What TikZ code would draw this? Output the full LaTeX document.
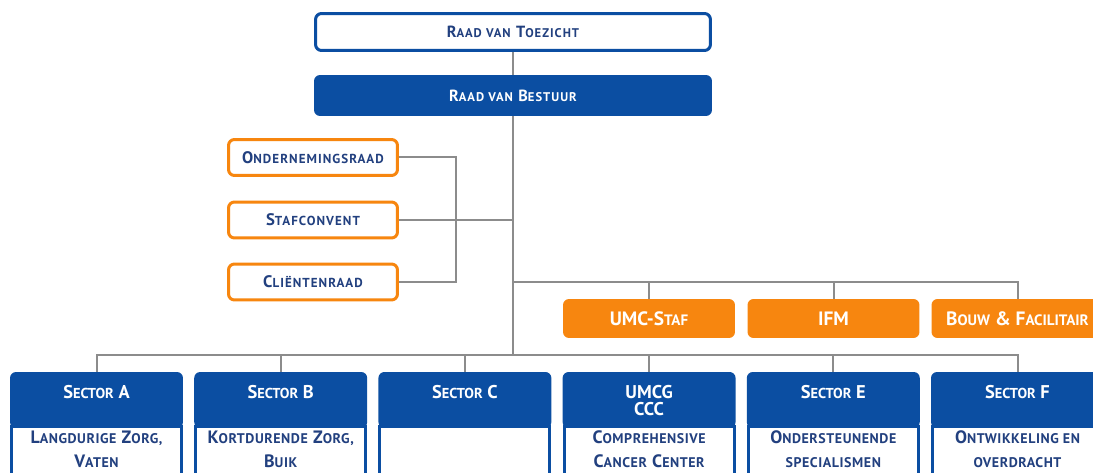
\documentclass[tikz,border=0pt]{standalone}
\usepackage{fontspec}
\setmainfont{PT Sans}
\newfontfamily\wideA{PT Sans}[LetterSpace=8]
\newfontfamily\wideB{PT Sans}[LetterSpace=4]
\definecolor{ublue}{HTML}{0B4EA2}
\definecolor{unavy}{HTML}{22407F}
\definecolor{uorange}{HTML}{F7860F}
\definecolor{ugray}{HTML}{8C8C8C}
\makeatletter
\newcommand\smc[1]{{\fontsize{\the\dimexpr\f@size pt*78/100\relax}{\f@baselineskip}\selectfont #1}}
\makeatother
\tikzset{
  conn/.style={draw=ugray, line width=0.04cm},
  rvtbox/.style={draw=ublue, line width=0.06cm, fill=white, rounded corners=0.12cm,
    minimum width=7.9cm, minimum height=0.74cm, text=unavy, font=\wideA\bfseries\fontsize{9.2}{11}\selectfont},
  rvbbox/.style={fill=ublue, rounded corners=0.12cm, minimum width=7.96cm, minimum height=0.82cm,
    text=white, font=\wideA\bfseries\fontsize{9.2}{11}\selectfont},
  obox/.style={draw=uorange, line width=0.06cm, fill=white, rounded corners=0.12cm,
    minimum width=3.38cm, minimum height=0.72cm, text=unavy, font=\wideA\bfseries\fontsize{9.5}{11}\selectfont},
  ofill/.style={fill=uorange, rounded corners=0.12cm, minimum width=3.44cm, minimum height=0.78cm,
    text=white, font=\bfseries\fontsize{11}{13}\selectfont},
  secbox/.style={fill=ublue, rounded corners=0.12cm, minimum width=3.46cm, minimum height=1.12cm, inner sep=0pt},
  secbody/.style={draw=ublue, line width=0.06cm, fill=white, minimum width=3.4cm, minimum height=1.6cm, anchor=north, inner sep=0pt},
  sectitle/.style={anchor=north, text=white, align=center, inner sep=0pt,
    font=\bfseries\fontsize{10.5}{9.6}\selectfont},
  sectext/.style={text=unavy, align=center, inner sep=0pt,
    font=\wideB\bfseries\fontsize{10.2}{13.6}\selectfont},
}
\begin{document}
\begin{tikzpicture}[x=0.02cm, y=-0.02cm]
\useasboundingbox (0,0) rectangle (1093,473);
\clip (0,0) rectangle (1093,473);

% top boxes
\node[rvtbox] (rvt) at (513,32) {R\smc{AAD VAN} T\smc{OEZICHT}};
\node[rvbbox] (rvb) at (513,95.5) {R\smc{AAD VAN} B\smc{ESTUUR}};

% advisory bodies
\node[obox] (ond)  at (313,157.5) {O\smc{NDERNEMINGSRAAD}};
\node[obox] (staf) at (313,220)   {S\smc{TAFCONVENT}};
\node[obox] (cli)  at (313,282)   {C\smc{LIËNTENRAAD}};

% staff units
\node[ofill] (umc)  at (649,318.5)  {UMC-S\smc{TAF}};
\node[ofill] (ifm)  at (833.5,318.5) {IFM};
\node[ofill] (bouw) at (1017.5,318.5) {B\smc{OUW} \& F\smc{ACILITAIR}};

% sectors: box, body, title, text
\foreach \n/\x in {sA/96.5, sB/280.7, sC/464.9, sU/649.1, sE/833.3, sF/1017.5}{
  \node[secbox] (\n) at (\x,400) {};
  \node[secbody] (\n b) at (\x,424.5) {};
}
\node[sectitle] (sAt) at (96.5,385)  {S\smc{ECTOR} A};
\node[sectitle] (sBt) at (280.7,385) {S\smc{ECTOR} B};
\node[sectitle] (sCt) at (464.9,385) {S\smc{ECTOR} C};
\node[sectitle] (sUt) at (649.1,385) {UMCG\\CCC};
\node[sectitle] (sEt) at (833.3,385) {S\smc{ECTOR} E};
\node[sectitle] (sFt) at (1017.5,385) {S\smc{ECTOR} F};

\node[sectext] (sAx) at (96.5,449)  {L\smc{ANGDURIGE} Z\smc{ORG,}\\V\smc{ATEN}};
\node[sectext] (sBx) at (280.7,449) {K\smc{ORTDURENDE} Z\smc{ORG,}\\B\smc{UIK}};
\node[sectext] (sUx) at (649.1,449) {C\smc{OMPREHENSIVE}\\C\smc{ANCER} C\smc{ENTER}};
\node[sectext] (sEx) at (833.3,449) {O\smc{NDERSTEUNENDE}\\\smc{SPECIALISMEN}};
\node[sectext] (sFx) at (1017.5,449) {O\smc{NTWIKKELING EN}\\\smc{OVERDRACHT}};

% connectors
\coordinate (bus) at (513,355);
\coordinate (sbus) at (513,282);
\coordinate (bx) at (456,220);
\draw[conn] (rvt) -- (rvb);
\draw[conn] (rvb.south) -- (bus);
\draw[conn] (ond.east) -- (ond.east -| bx) |- (cli.east);
\draw[conn] (staf.east) -- (staf.east -| bus);
\draw[conn] (sbus) -| (bouw.north);
\draw[conn] (umc.north) -- (umc.north |- sbus);
\draw[conn] (ifm.north) -- (ifm.north |- sbus);
\draw[conn] (sA.north) |- (bus) -| (sF.north);
\foreach \n in {sB, sC, sU, sE}{
  \draw[conn] (\n.north) -- (\n.north |- bus);
}
\end{tikzpicture}
\end{document}
